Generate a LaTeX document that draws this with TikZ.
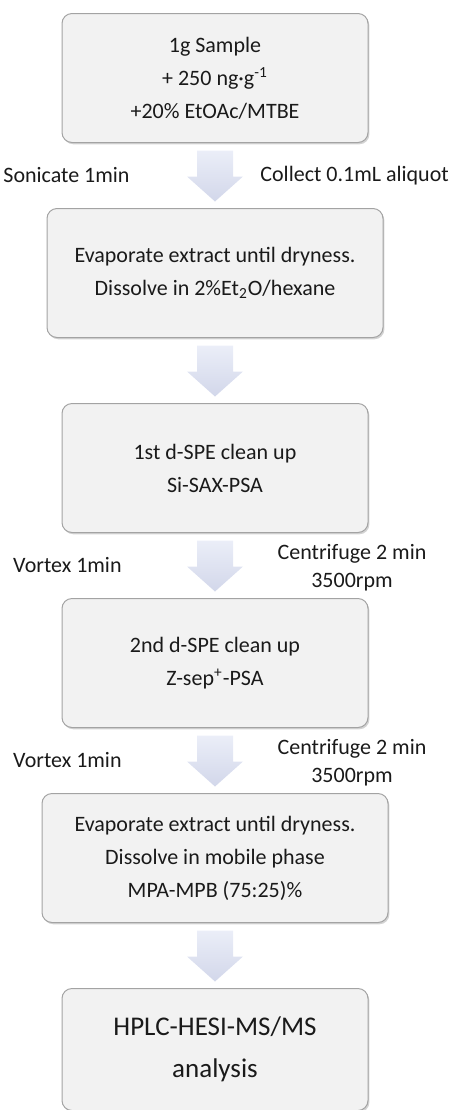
\documentclass[tikz,border=0pt]{standalone}
\usepackage{fontspec}
\setmainfont{Carlito}
\usetikzlibrary{positioning,calc,shadows}

\definecolor{boxfill}{HTML}{F2F2F2}
\definecolor{boxline}{HTML}{A3A3A3}
\definecolor{arrowtop}{HTML}{EBEEF8}
\definecolor{arrowbot}{HTML}{D2D7EA}
\definecolor{inktext}{HTML}{1A1A1A}

% block arrow centred on a coordinate
\newcommand{\stepflow}[1]{%
  \path[flow] (#1) ++(-9pt,12.5pt) -- ++(18pt,0pt) -- ++(0pt,-13pt)
    -- ++(5pt,0pt) -- ++(-14pt,-12.5pt) -- ++(-14pt,12.5pt)
    -- ++(5pt,0pt) -- cycle;}

\begin{document}
\begin{tikzpicture}[node distance=32.5pt,text=inktext,
                    font=\fontsize{11}{16.5}\selectfont]

  \tikzstyle{stage}=[rectangle,rounded corners=5pt,draw=boxline,
                     line width=0.5pt,fill=boxfill,minimum height=64.5pt,
                     align=center,drop shadow={shadow xshift=0.7pt,
                     shadow yshift=-0.9pt,opacity=0.35}]
  \tikzstyle{flow}=[top color=arrowtop,bottom color=arrowbot]
  \tikzstyle{note}=[inner sep=0pt,align=center,
                    font=\fontsize{11}{14}\selectfont]

  \useasboundingbox (0,0) rectangle (225pt,-555pt);

  % the six stages
  \node [stage,minimum width=153pt] (s1) at (107.5pt,-39pt)
    {1g Sample\\+ 250 ng·g\textsuperscript{-1}\\+20\% EtOAc/MTBE};
  \node [stage,minimum width=168pt] (s2) [below=of s1]
    {Evaporate extract until dryness.\\Dissolve in 2\%Et\textsubscript{2}O/hexane};
  \node [stage,minimum width=153pt] (s3) [below=of s2]
    {1st d-SPE clean up\\Si-SAX-PSA};
  \node [stage,minimum width=153pt] (s4) [below=of s3]
    {2nd d-SPE clean up\\Z-sep\textsuperscript{+}-PSA};
  \node [stage,minimum width=173pt] (s5) [below=of s4]
    {Evaporate extract until dryness.\\Dissolve in mobile phase\\MPA-MPB (75:25)\%};
  \node [stage,minimum width=153pt,minimum height=61pt,
         font=\fontsize{13.5}{21}\selectfont] (s6) [below=of s5]
    {HPLC-HESI-MS/MS\\analysis};

  % arrows between stages
  \foreach \a/\b [count=\i] in {s1/s2,s2/s3,s3/s4,s4/s5,s5/s6} {
    \coordinate (m\i) at ($(\a.south)!0.5!(\b.north)$);
    \stepflow{m\i}
  }

  \node [note,left=42.5pt of m1]  (sonicate) {Sonicate 1min};
  \node [note,right=22.5pt of m1] (collect)  {Collect 0.1mL aliquot};

  \node [note,left=46.5pt of m3] (vortex1) {Vortex 1min};
  \node [note] (centri1) at ($(m3)+(68.5pt,-1pt)$)
    {Centrifuge 2 min\\3500rpm};

  \node [note,left=46.5pt of m4] (vortex2) {Vortex 1min};
  \node [note] (centri2) at ($(m4)+(68.5pt,-1pt)$)
    {Centrifuge 2 min\\3500rpm};
\end{tikzpicture}
\end{document}
